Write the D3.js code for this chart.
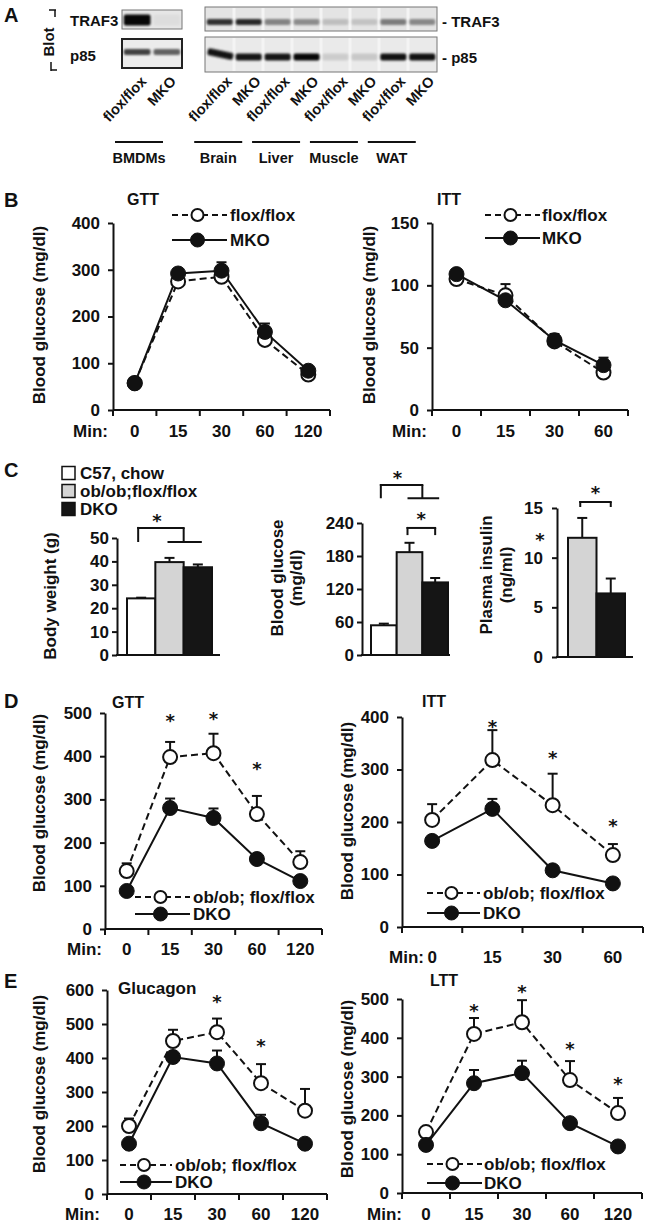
<!DOCTYPE html>
<html><head><meta charset="utf-8">
<script src="https://cdn.jsdelivr.net/npm/d3@7"></script>
<style>html,body{margin:0;padding:0;background:#fff;} svg{display:block;}</style>
</head><body><svg id="fig" width="647" height="1229"></svg>
<script>
// ================= DATA =================
// Panel A (western blot)
const blotLeftLanes = ["flox/flox", "MKO"];
const blotRightLanes = ["flox/flox", "MKO", "flox/flox", "MKO", "flox/flox", "MKO", "flox/flox", "MKO"];
const tissues = ["BMDMs", "Brain", "Liver", "Muscle", "WAT"];
const traf3Left = [0.97, 0.03];
const p85Left = [0.72, 0.58];
const traf3Right = [0.78, 0.82, 0.42, 0.38, 0.16, 0.14, 0.45, 0.40];
const p85Right = [0.92, 0.90, 0.90, 0.97, 0.12, 0.14, 0.92, 0.92];

// Panel B
const gttCats = ["0", "15", "30", "60", "120"];
const ittCats = ["0", "15", "30", "60"];
const bGttFlox = [58, 275, 285, 150, 76];
const bGttFloxErr = [5, 8, 8, 8, 5];
const bGttMko = [57, 292, 298, 167, 84];
const bGttMkoErr = [4, 6, 18, 18, 6];
const bIttFlox = [105, 92, 55, 30];
const bIttFloxErr = [3, 9, 4, 4];
const bIttMko = [109, 88, 56, 36];
const bIttMkoErr = [3, 4, 5, 6];

// Panel C
const cGroups = ["C57, chow", "ob/ob;flox/flox", "DKO"];
const bodyWeight = [24.2, 39.7, 37.5];
const bodyWeightErr = [0.3, 1.8, 1.2];
const bloodGlucose = [54, 187, 132];
const bloodGlucoseErr = [3, 17, 8];
const insulinGroups = ["ob/ob;flox/flox", "DKO"];
const plasmaInsulin = [12.0, 6.4];
const plasmaInsulinErr = [2.0, 1.5];

// Panel D
const dGttOb = [134, 398, 407, 266, 155];
const dGttObErr = [18, 35, 45, 42, 25];
const dGttDko = [88, 280, 257, 162, 111];
const dGttDkoErr = [5, 22, 22, 8, 6];
const dGttStarCats = ["15", "30", "60"];
const dGttStarVals = [491, 495, 380];
const dIttOb = [204, 318, 232, 137];
const dIttObErr = [30, 57, 60, 21];
const dIttDko = [164, 225, 108, 83];
const dIttDkoErr = [5, 19, 5, 5];
const dIttStarCats = ["15", "30", "60"];
const dIttStarVals = [389, 330, 200];

// Panel E
const eGluOb = [200, 450, 476, 326, 245];
const eGluObErr = [22, 33, 40, 56, 64];
const eGluDko = [148, 403, 384, 208, 148];
const eGluDkoErr = [8, 10, 38, 25, 6];
const eGluStarCats = ["30", "60"];
const eGluStarVals = [576, 447];
const eLttOb = [157, 410, 440, 291, 206];
const eLttObErr = [8, 41, 57, 49, 39];
const eLttDko = [124, 283, 309, 180, 120];
const eLttDkoErr = [5, 34, 32, 6, 5];
const eLttStarCats = ["15", "30", "60", "120"];
const eLttStarVals = [479, 528, 381, 291];

// ================= DRAWING =================
const FONT = "'Liberation Sans', Arial, Helvetica, sans-serif";
const STARFONT = "'DejaVu Sans', sans-serif";
const INK = "#111";
const TICK = 17, LAB = 17, LEG = 17, TITLE = 16;
const svg = d3.select("#fig").attr("font-family", FONT).attr("font-weight", "bold");

const defs = svg.append("defs");
defs.append("filter").attr("id", "blur").attr("x", "-30%").attr("y", "-60%").attr("width", "160%").attr("height", "220%")
  .append("feGaussianBlur").attr("stdDeviation", 1.3);

function txt(x, y, s, size, anchor) {
  return svg.append("text").attr("x", x).attr("y", y).attr("font-size", size)
    .attr("text-anchor", anchor || "start").attr("fill", INK).text(s);
}
function star(x, y) {
  return txt(x, y, "*", 18, "middle").attr("font-family", STARFONT);
}
function line(x1, y1, x2, y2, w, dash) {
  const l = svg.append("line").attr("x1", x1).attr("y1", y1).attr("x2", x2).attr("y2", y2)
    .attr("stroke", INK).attr("stroke-width", w || 2);
  if (dash) l.attr("stroke-dasharray", dash);
  return l;
}
function vLabel(x, cy, s, size) {
  svg.append("text").attr("transform", `translate(${x},${cy}) rotate(-90)`)
    .attr("font-size", size).attr("text-anchor", "middle").attr("fill", INK).text(s);
}
function styleAxis(sel, size) {
  sel.attr("font-family", FONT).attr("font-size", size).attr("font-weight", "bold");
  sel.select(".domain").attr("stroke", INK).attr("stroke-width", 2);
  sel.selectAll(".tick line").attr("stroke", INK).attr("stroke-width", 2);
  sel.selectAll(".tick text").attr("fill", INK);
}

// ---------- Panel letters ----------
[["A", 22], ["B", 207], ["C", 477], ["D", 708], ["E", 988]].forEach(([l, y]) => txt(4, y, l, 20));

// ---------- Panel A ----------
vLabel(54, 42, "Blot", 15);
line(49, 10, 56, 10, 1.5); line(55, 10, 55, 17, 1.5);
line(51, 62, 51, 71, 1.5); line(51, 70, 57, 70, 1.5);
txt(70, 26, "TRAF3", 15);
txt(70, 61, "p85", 15);
txt(442, 27, "- TRAF3", 15);
txt(442, 63, "- p85", 15);

function blot(x0, x1, y0, y1, intens, bandY, bandH, border, bg, firstTilt) {
  svg.append("rect").attr("x", x0).attr("y", y0).attr("width", x1 - x0).attr("height", y1 - y0)
    .attr("fill", bg).attr("stroke", border.c).attr("stroke-width", border.w);
  const lane = d3.scaleBand().domain(d3.range(intens.length)).range([x0, x1]).paddingInner(0.1).paddingOuter(0.06);
  if (intens.length > 2) {
    svg.selectAll(null).data(d3.range(1, intens.length)).enter().append("rect")
      .attr("x", i => x0 + (x1 - x0) * i / intens.length - 1.5).attr("y", y0 + 1)
      .attr("width", 3).attr("height", y1 - y0 - 2).attr("fill", "#f4f4f4");
  }
  svg.selectAll(null).data(intens).enter().append("rect")
    .attr("x", (d, i) => lane(i)).attr("width", lane.bandwidth())
    .attr("y", bandY - bandH / 2).attr("height", bandH).attr("rx", 2)
    .attr("fill", "#000").attr("opacity", d => d).attr("filter", "url(#blur)")
    .attr("transform", (d, i) => (firstTilt && i === 0) ? `rotate(12 ${lane(i) + lane.bandwidth() / 2} ${bandY}) translate(0,-3)` : null);
  return lane;
}
const laneL = blot(122, 182, 10, 29, traf3Left, 20, 11, {c: "#777", w: 1}, "#e6e6e6", false);
blot(122, 182, 39, 68, p85Left, 52, 6, {c: "#222", w: 2}, "#ececec", false);
const laneR = blot(205, 437, 7, 31, traf3Right, 22, 6, {c: "#777", w: 1}, "#e4e4e4", false);
blot(205, 437, 37, 72, p85Right, 57, 7, {c: "#777", w: 1}, "#eaeaea", true);

function laneLabel(cx, s) {
  svg.append("text").attr("transform", `translate(${cx},82) rotate(-47)`).attr("font-size", 14.5)
    .attr("text-anchor", "end").attr("fill", INK).text(s);
}
blotLeftLanes.forEach((s, i) => laneLabel(laneL(i) + laneL.bandwidth() / 2 + 10, s));
blotRightLanes.forEach((s, i) => laneLabel(laneR(i) + laneR.bandwidth() / 2 + 13, s));

tissues.forEach((t, k) => {
  let cx;
  if (k === 0) cx = (laneL(0) + laneL(1) + laneL.bandwidth()) / 2 - 13;
  else {
    const a = (k - 1) * 2;
    cx = (laneR(a) + laneR(a + 1) + laneR.bandwidth()) / 2 - 16;
  }
  line(cx - 24, 142, cx + 24, 142, 2);
  txt(cx, 163, t, 14.5, "middle");
});

// ---------- Line charts ----------
function lineChart(c) {
  const x = d3.scaleBand().domain(c.cats).range([c.x0, c.x1]);
  const y = d3.scaleLinear().domain([0, c.ymax]).range([c.yBot, c.yTop]);
  const cx = d => x(d) + x.bandwidth() / 2;
  const ya = svg.append("g").attr("transform", `translate(${c.x0},0)`)
    .call(d3.axisLeft(y).tickValues(c.ticks).tickSize(5).tickSizeOuter(0).tickPadding(8));
  styleAxis(ya, TICK);
  line(c.x0, c.yBot, c.x1, c.yBot, 2);
  [...c.cats.map(d => x(d)), c.x1].forEach(t => line(t, c.yBot, t, c.yBot + 6, 2));
  c.cats.forEach(d => txt(cx(d), c.yBot + c.catDy, d, TICK, "middle"));
  txt(c.x0 + c.minDx, c.yBot + c.catDy, "Min:", TICK, "end");
  vLabel(c.yLab[0], c.yLab[1], "Blood glucose (mg/dl)", LAB);
  txt(c.title[1], c.title[2], c.title[0], c.title[3] || TITLE);

  const gen = d3.line().x((v, i) => cx(c.cats[i])).y(v => y(v));
  c.series.forEach(s => {
    svg.append("path").attr("d", gen(s.vals)).attr("fill", "none").attr("stroke", INK)
      .attr("stroke-width", 2).attr("stroke-dasharray", s.open ? "7,4" : null);
  });
  c.series.forEach(s => {
    s.vals.forEach((v, i) => {
      const xx = cx(c.cats[i]), top = y(v + s.errs[i]);
      line(xx, y(v), xx, top, 2);
      line(xx - 5, top, xx + 5, top, 2);
    });
  });
  c.series.forEach(s => {
    svg.selectAll(null).data(s.vals).enter().append("circle")
      .attr("cx", (v, i) => cx(c.cats[i])).attr("cy", v => y(v))
      .attr("r", s.open ? 7 : 7.5)
      .attr("fill", s.open ? "#fff" : INK).attr("stroke", INK).attr("stroke-width", s.open ? 2 : 1);
  });
  if (c.stars) c.stars.cats.forEach((d, i) => star(cx(d), y(c.stars.vals[i]) + 10));
  // legend
  const L = c.legend;
  c.series.forEach((s, k) => {
    const ly = L.ys[k];
    line(L.x1, ly, L.x2, ly, 2, s.open ? "6,4" : null);
    svg.append("circle").attr("cx", (L.x1 + L.x2) / 2 - 2).attr("cy", ly).attr("r", s.open ? 6 : 7)
      .attr("fill", s.open ? "#fff" : INK).attr("stroke", INK).attr("stroke-width", s.open ? 2 : 1);
    txt(L.tx, ly + 6, s.name, LEG);
  });
}

// B GTT
lineChart({
  cats: gttCats, x0: 113, x1: 330, yTop: 223, yBot: 410, ymax: 400, ticks: [0, 100, 200, 300, 400],
  catDy: 27, minDx: -5, yLab: [45, 315], title: ["GTT", 127, 205],
  series: [{name: "flox/flox", vals: bGttFlox, errs: bGttFloxErr, open: true},
           {name: "MKO", vals: bGttMko, errs: bGttMkoErr, open: false}],
  legend: {x1: 172, x2: 227, tx: 230, ys: [215, 240]}
});
// B ITT
lineChart({
  cats: ittCats, x0: 432, x1: 628, yTop: 223, yBot: 410, ymax: 150, ticks: [0, 50, 100, 150],
  catDy: 27, minDx: -5, yLab: [375, 315], title: ["ITT", 437, 205],
  series: [{name: "flox/flox", vals: bIttFlox, errs: bIttFloxErr, open: true},
           {name: "MKO", vals: bIttMko, errs: bIttMkoErr, open: false}],
  legend: {x1: 485, x2: 540, tx: 542, ys: [215, 238]}
});
// D GTT
lineChart({
  cats: gttCats, x0: 105, x1: 322, yTop: 713, yBot: 929, ymax: 500, ticks: [0, 100, 200, 300, 400, 500],
  catDy: 26, minDx: -3, yLab: [45, 803], title: ["GTT", 112, 708],
  series: [{name: "ob/ob; flox/flox", vals: dGttOb, errs: dGttObErr, open: true},
           {name: "DKO", vals: dGttDko, errs: dGttDkoErr, open: false}],
  stars: {cats: dGttStarCats, vals: dGttStarVals},
  legend: {x1: 135, x2: 190, tx: 193, ys: [897, 914]}
});
// D ITT
lineChart({
  cats: ittCats, x0: 402, x1: 643, yTop: 717, yBot: 927, ymax: 400, ticks: [0, 100, 200, 300, 400],
  catDy: 36, minDx: 22, yLab: [353, 811], title: ["ITT", 422, 707],
  series: [{name: "ob/ob; flox/flox", vals: dIttOb, errs: dIttObErr, open: true},
           {name: "DKO", vals: dIttDko, errs: dIttDkoErr, open: false}],
  stars: {cats: dIttStarCats, vals: dIttStarVals},
  legend: {x1: 427, x2: 480, tx: 483, ys: [893, 913]}
});
// E Glucagon
lineChart({
  cats: gttCats, x0: 107, x1: 327, yTop: 990, yBot: 1194, ymax: 600, ticks: [0, 100, 200, 300, 400, 500, 600],
  catDy: 26, minDx: -7, yLab: [45, 1084], title: ["Glucagon", 118, 994, 17],
  series: [{name: "ob/ob; flox/flox", vals: eGluOb, errs: eGluObErr, open: true},
           {name: "DKO", vals: eGluDko, errs: eGluDkoErr, open: false}],
  stars: {cats: eGluStarCats, vals: eGluStarVals},
  legend: {x1: 120, x2: 172, tx: 175, ys: [1165, 1182]}
});
// E LTT
lineChart({
  cats: gttCats, x0: 402, x1: 642, yTop: 999, yBot: 1193, ymax: 500, ticks: [0, 100, 200, 300, 400, 500],
  catDy: 27, minDx: 0, yLab: [353, 1089], title: ["LTT", 430, 986],
  series: [{name: "ob/ob; flox/flox", vals: eLttOb, errs: eLttObErr, open: true},
           {name: "DKO", vals: eLttDko, errs: eLttDkoErr, open: false}],
  stars: {cats: eLttStarCats, vals: eLttStarVals},
  legend: {x1: 427, x2: 482, tx: 484, ys: [1164, 1183]}
});

// ---------- Panel C bar charts ----------
const barFill = {"C57, chow": "#ffffff", "ob/ob;flox/flox": "#d4d4d4", "DKO": "#151515"};

// legend
cGroups.forEach((g, i) => {
  const cy = 473 + i * 18;
  svg.append("rect").attr("x", 62).attr("y", cy - 6.5).attr("width", 13).attr("height", 13)
    .attr("fill", barFill[g]).attr("stroke", INK).attr("stroke-width", 1.5);
  txt(80, cy + 6, g, LEG);
});

function barChart(c) {
  const x = d3.scaleBand().domain(c.groups).range(c.band);
  const y = d3.scaleLinear().domain([0, c.ymax]).range([c.yBot, c.yTop]);
  const ya = svg.append("g").attr("transform", `translate(${c.axisX},0)`)
    .call(d3.axisLeft(y).tickValues(c.ticks).tickSize(5).tickSizeOuter(0).tickPadding(c.pad));
  styleAxis(ya, TICK);
  c.groups.forEach((g, i) => {
    const xc = x(g) + x.bandwidth() / 2, top = y(c.vals[i] + c.errs[i]);
    line(xc, y(c.vals[i]), xc, top, 2);
    line(xc - 5, top, xc + 5, top, 2);
  });
  svg.selectAll(null).data(c.vals).enter().append("rect")
    .attr("x", (v, i) => x(c.groups[i])).attr("width", x.bandwidth())
    .attr("y", v => y(v)).attr("height", v => c.yBot - y(v))
    .attr("fill", (v, i) => barFill[c.groups[i]]).attr("stroke", INK).attr("stroke-width", 2);
  line(c.axisX - 1, c.yBot, c.x1, c.yBot, 2);
  c.yLabels.forEach(([s, lx]) => vLabel(lx, c.yLabCy, s, LAB));
  const mid = g => x(g) + x.bandwidth() / 2;
  (c.brackets || []).forEach(b => {
    const yT = y(b.top), yB = y(b.bottom);
    if (b.type === "one-vs-two") {
      const xa = mid(b.a) - 3, xm = (mid(b.b) + mid(b.c)) / 2;
      line(xa, yB, xa, yT - 1, 2); line(xa - 1, yT, xm + 1, yT, 2); line(xm, yT, xm, yB, 2);
      line(mid(b.b) - 2, yB, mid(b.c) + 4, yB, 2);
      star((xa + xm) / 2 - 4, yT - 1);
    } else {
      const xa = mid(b.a) - 2, xb = mid(b.b);
      line(xa, yB, xa, yT - 1, 2); line(xa - 1, yT, xb + 1, yT, 2); line(xb, yT, xb, yB, 2);
      star((xa + xb) / 2, yT - 3);
    }
  });
  return y;
}

barChart({
  groups: cGroups, vals: bodyWeight, errs: bodyWeightErr, ymax: 50, ticks: [0, 10, 20, 30, 40, 50],
  axisX: 117, x1: 220, yTop: 538, yBot: 655, band: [127, 212], pad: 3,
  yLabels: [["Body weight (g)", 56]], yLabCy: 596,
  brackets: [{type: "one-vs-two", a: "C57, chow", b: "ob/ob;flox/flox", c: "DKO", top: 54.3, bottom: 48.3}]
});
barChart({
  groups: cGroups, vals: bloodGlucose, errs: bloodGlucoseErr, ymax: 240, ticks: [0, 60, 120, 180, 240],
  axisX: 362, x1: 450, yTop: 523, yBot: 655, band: [371, 448], pad: 3,
  yLabels: [["Blood glucose", 283], ["(mg/dl)", 302]], yLabCy: 578,
  brackets: [{type: "one-vs-two", a: "C57, chow", b: "ob/ob;flox/flox", c: "DKO", top: 309, bottom: 285},
             {type: "pair", a: "ob/ob;flox/flox", b: "DKO", top: 231, bottom: 218}]
});
const yIns = barChart({
  groups: insulinGroups, vals: plasmaInsulin, errs: plasmaInsulinErr, ymax: 15, ticks: [0, 5, 10, 15],
  axisX: 557, x1: 633, yTop: 508, yBot: 657, band: [568, 625], pad: 9,
  yLabels: [["Plasma insulin", 492], ["(ng/ml)", 512]], yLabCy: 575,
  brackets: [{type: "pair", a: "ob/ob;flox/flox", b: "DKO", top: 15.6, bottom: 15.1}]
});
// stray asterisk next to the insulin axis
star(540, yIns(12.0) + 8);
</script></body></html>
